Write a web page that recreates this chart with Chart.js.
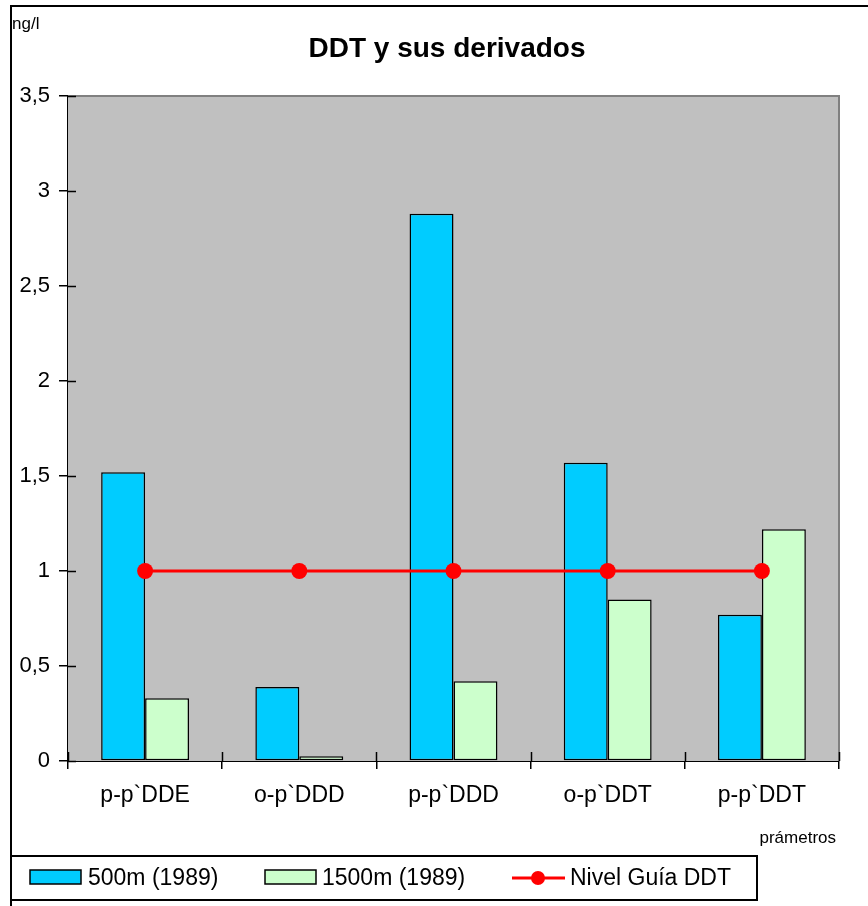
<!DOCTYPE html>
<html>
<head>
<meta charset="utf-8">
<script src="https://cdn.jsdelivr.net/npm/chart.js@4/dist/chart.umd.min.js"></script>
<style>
  html, body { margin: 0; padding: 0; background: #fff; }
  canvas { display: block; }
</style>
</head>
<body>
<canvas id="myChart" width="868" height="906"></canvas>
<script>
var categories = ["p-p`DDE", "o-p`DDD", "p-p`DDD", "o-p`DDT", "p-p`DDT"];
var values500 = [1.52, 0.39, 2.88, 1.57, 0.77];
var values1500 = [0.33, 0.025, 0.42, 0.85, 1.22];
var nivelGuia = [1, 1, 1, 1, 1];
var yTicks = [0, 0.5, 1, 1.5, 2, 2.5, 3, 3.5];

var FONT = "'Liberation Sans', Arial, sans-serif";

// gray plot background, frame, inner tick stubs, texts and legend
var decor = {
  id: "decor",
  beforeDatasetsDraw: function (chart) {
    var c = chart.ctx, a = chart.chartArea;
    c.save();
    c.fillStyle = "#c0c0c0";
    c.fillRect(a.left, a.top, a.right - a.left, a.bottom - a.top);
    c.strokeStyle = "#808080";
    c.lineWidth = 2;
    c.beginPath();
    c.moveTo(a.left, a.top);
    c.lineTo(a.right, a.top);
    c.lineTo(a.right, a.bottom);
    c.stroke();
    c.restore();
  },
  afterDraw: function (chart) {
    var c = chart.ctx, a = chart.chartArea;
    var x = chart.scales.x, y = chart.scales.y;
    c.save();
    // tick stubs inside the plot
    c.strokeStyle = "#000";
    c.lineWidth = 1.5;
    c.beginPath();
    yTicks.forEach(function (v) {
      var py = Math.round(y.getPixelForValue(v)) + 0.5;
      c.moveTo(a.left, py);
      c.lineTo(a.left + 8, py);
    });
    for (var i = 0; i <= categories.length; i++) {
      var px = Math.round(x.getPixelForTick(0) + (i - 0.5) * (x.getPixelForTick(1) - x.getPixelForTick(0))) + 0.5;
      c.moveTo(px, a.bottom);
      c.lineTo(px, a.bottom - 9);
    }
    c.stroke();

    // outer frame
    c.lineWidth = 2;
    c.beginPath();
    c.moveTo(11, 906);
    c.lineTo(11, 6);
    c.lineTo(868, 6);
    c.stroke();

    // texts
    c.fillStyle = "#000";
    c.font = "bold 28px " + FONT;
    c.textAlign = "center";
    c.textBaseline = "middle";
    c.fillText("DDT y sus derivados", 447, 49);

    c.font = "17px " + FONT;
    c.textAlign = "left";
    c.textBaseline = "alphabetic";
    c.fillText("ng/l", 12, 29);
    c.textAlign = "right";
    c.fillText("prámetros", 836, 843);

    // legend
    c.lineWidth = 2;
    c.strokeRect(11, 856, 746, 44);
    var ds = chart.data.datasets;
    c.font = "23px " + FONT;
    c.textAlign = "left";
    c.textBaseline = "middle";
    var ly = 878;
    c.lineWidth = 1.5;
    c.fillStyle = ds[0].backgroundColor;
    c.fillRect(30, 870, 51, 14);
    c.strokeRect(30, 870, 51, 14);
    c.fillStyle = "#000";
    c.fillText(ds[0].label, 88, ly + 1);

    c.fillStyle = ds[1].backgroundColor;
    c.fillRect(265, 870, 51, 14);
    c.strokeRect(265, 870, 51, 14);
    c.fillStyle = "#000";
    c.fillText(ds[1].label, 322, ly + 1);

    c.strokeStyle = ds[2].borderColor;
    c.lineWidth = 3;
    c.beginPath();
    c.moveTo(512, ly);
    c.lineTo(565, ly);
    c.stroke();
    c.fillStyle = ds[2].pointBackgroundColor;
    c.beginPath();
    c.arc(538, ly, 7, 0, Math.PI * 2);
    c.fill();
    c.fillStyle = "#000";
    c.fillText(ds[2].label, 570, ly + 1);
    c.restore();
  }
};

var ctx = document.getElementById("myChart").getContext("2d");
var myChart = new Chart(ctx, {
  type: "bar",
  data: {
    labels: categories,
    datasets: [
      {
        label: "500m (1989)",
        data: values500,
        backgroundColor: "#00ccff",
        borderColor: "#000",
        borderWidth: 1.5,
        borderSkipped: false,
        barPercentage: 1,
        categoryPercentage: 0.57,
        order: 1
      },
      {
        label: "1500m (1989)",
        data: values1500,
        backgroundColor: "#ccffcc",
        borderColor: "#000",
        borderWidth: 1.5,
        borderSkipped: false,
        barPercentage: 1,
        categoryPercentage: 0.57,
        order: 1
      },
      {
        type: "line",
        label: "Nivel Guía DDT",
        data: nivelGuia,
        borderColor: "#ff0000",
        borderWidth: 3,
        pointRadius: 8,
        pointBackgroundColor: "#ff0000",
        pointBorderColor: "#ff0000",
        pointBorderWidth: 0,
        order: 0
      }
    ]
  },
  options: {
    responsive: false,
    animation: false,
    events: [],
    layout: { padding: { left: 0, top: 96, right: 29, bottom: 85 } },
    plugins: {
      legend: { display: false },
      title: { display: false },
      tooltip: { enabled: false }
    },
    scales: {
      x: {
        grid: { offset: true, drawOnChartArea: false, color: "#000", lineWidth: 1.5, tickLength: 8 },
        border: { color: "#000", width: 2 },
        ticks: { color: "#000", font: { family: FONT, size: 23 }, padding: 13, maxRotation: 0 },
        afterFit: function (s) { s.height = 60; }
      },
      y: {
        min: 0,
        max: 3.5,
        grid: { drawOnChartArea: false, color: "#000", lineWidth: 1.5, tickLength: 9 },
        border: { color: "#000", width: 2 },
        ticks: {
          stepSize: 0.5,
          color: "#000",
          padding: 9,
          font: { family: FONT, size: 22 },
          callback: function (v) { return String(v).replace(".", ","); }
        },
        afterFit: function (s) { s.width = 68; }
      }
    }
  },
  plugins: [decor]
});
</script>
</body>
</html>
